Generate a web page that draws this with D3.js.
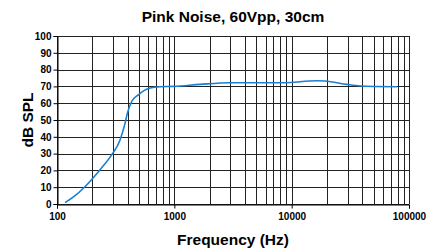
<!DOCTYPE html>
<html lang="en">
<head>
  <meta charset="UTF-8" />
  <title>Pink Noise, 60Vpp, 30cm</title>
  <style>
    html, body {
      margin: 0;
      padding: 0;
      background: #fff;
      font-family: "Liberation Sans", Arial, sans-serif;
    }
  </style>
</head>
<body>
<script src="https://d3js.org/d3.v7.min.js"></script>
<script>
  // frequency response
  const freqs = [117, 140, 173, 230, 292, 344, 380, 398, 433, 493, 560, 621, 755, 1000, 1655, 2985, 4420, 8500, 16300, 19250, 29500, 38500, 50000, 79000];
  const spl   = [0.8, 4.5, 10.3, 20, 29.2, 38, 48, 54, 61, 65, 67.8, 69, 69.8, 70, 71.2, 72.2, 72.2, 72.2, 73.4, 73.2, 71.2, 70.2, 69.9, 69.8];
  const yTicks = d3.range(0, 101, 10);
  const xLabels = [100, 1000, 10000, 100000];

  const width = 432, height = 251;
  const margin = {top: 36, right: 23, bottom: 47, left: 57};

  const x = d3.scaleLog().domain([100, 100000]).range([margin.left, width - margin.right]);
  const y = d3.scaleLinear().domain([0, 100]).range([height - margin.bottom, margin.top]);

  const svg = d3.select("body").append("svg")
    .attr("width", width)
    .attr("height", height)
    .attr("style", "font-family: 'Liberation Sans', Arial, sans-serif; font-weight: bold;");

  // grid
  const minor = [];
  for (let d = 100; d < 100000; d *= 10) {
    for (let k = 1; k < 10; k++) minor.push(d * k);
  }
  minor.push(100000);

  const grid = svg.append("g").attr("stroke", "#222").attr("stroke-width", 1);
  grid.selectAll("line.v")
    .data(minor)
    .join("line")
    .attr("class", "v")
    .attr("x1", d => Math.round(x(d)) + 0.5)
    .attr("x2", d => Math.round(x(d)) + 0.5)
    .attr("y1", y(100))
    .attr("y2", y(0));

  grid.selectAll("line.h")
    .data(yTicks)
    .join("line")
    .attr("class", "h")
    .attr("x1", x(100))
    .attr("x2", x(100000))
    .attr("y1", d => Math.round(y(d)) + 0.5)
    .attr("y2", d => Math.round(y(d)) + 0.5);

  // axes
  const yAxis = d3.axisLeft(y).tickValues(yTicks).tickSize(4).tickPadding(2);
  svg.append("g")
    .attr("transform", `translate(${Math.round(x(100)) + 0.5},0)`)
    .call(yAxis)
    .call(g => g.select(".domain").attr("stroke", "#000"))
    .call(g => g.selectAll("line").attr("stroke", "#000"))
    .call(g => g.selectAll("text").attr("font-size", 10).attr("font-weight", "bold")
      .attr("font-family", "'Liberation Sans', Arial, sans-serif").attr("fill", "#000"));

  const xAxis = d3.axisBottom(x).tickValues(xLabels).tickFormat(d3.format("d")).tickSize(4).tickPadding(4);
  svg.append("g")
    .attr("transform", `translate(0,${Math.round(y(0)) + 0.5})`)
    .call(xAxis)
    .call(g => g.select(".domain").attr("stroke", "#000"))
    .call(g => g.selectAll("line").attr("stroke", "#000"))
    .call(g => g.selectAll("text").attr("font-size", 10).attr("font-weight", "bold")
      .attr("font-family", "'Liberation Sans', Arial, sans-serif").attr("fill", "#000"));

  // curve
  const line = d3.line()
    .x((d, i) => x(freqs[i]))
    .y(d => y(d))
    .curve(d3.curveMonotoneX);

  svg.append("path")
    .datum(spl)
    .attr("fill", "none")
    .attr("stroke", "#1a7fd0")
    .attr("stroke-width", 1.6)
    .attr("d", line);

  // titles
  svg.append("text")
    .attr("x", (x(100) + x(100000)) / 2)
    .attr("y", 22)
    .attr("text-anchor", "middle")
    .attr("font-size", 15.5)
    .text("Pink Noise, 60Vpp, 30cm");

  svg.append("text")
    .attr("transform", `translate(33,${(y(0) + y(100)) / 2}) rotate(-90)`)
    .attr("text-anchor", "middle")
    .attr("font-size", 15.5)
    .text("dB SPL");

  svg.append("text")
    .attr("x", (x(100) + x(100000)) / 2)
    .attr("y", 245)
    .attr("text-anchor", "middle")
    .attr("font-size", 15.5)
    .text("Frequency (Hz)");
</script>
</body>
</html>
